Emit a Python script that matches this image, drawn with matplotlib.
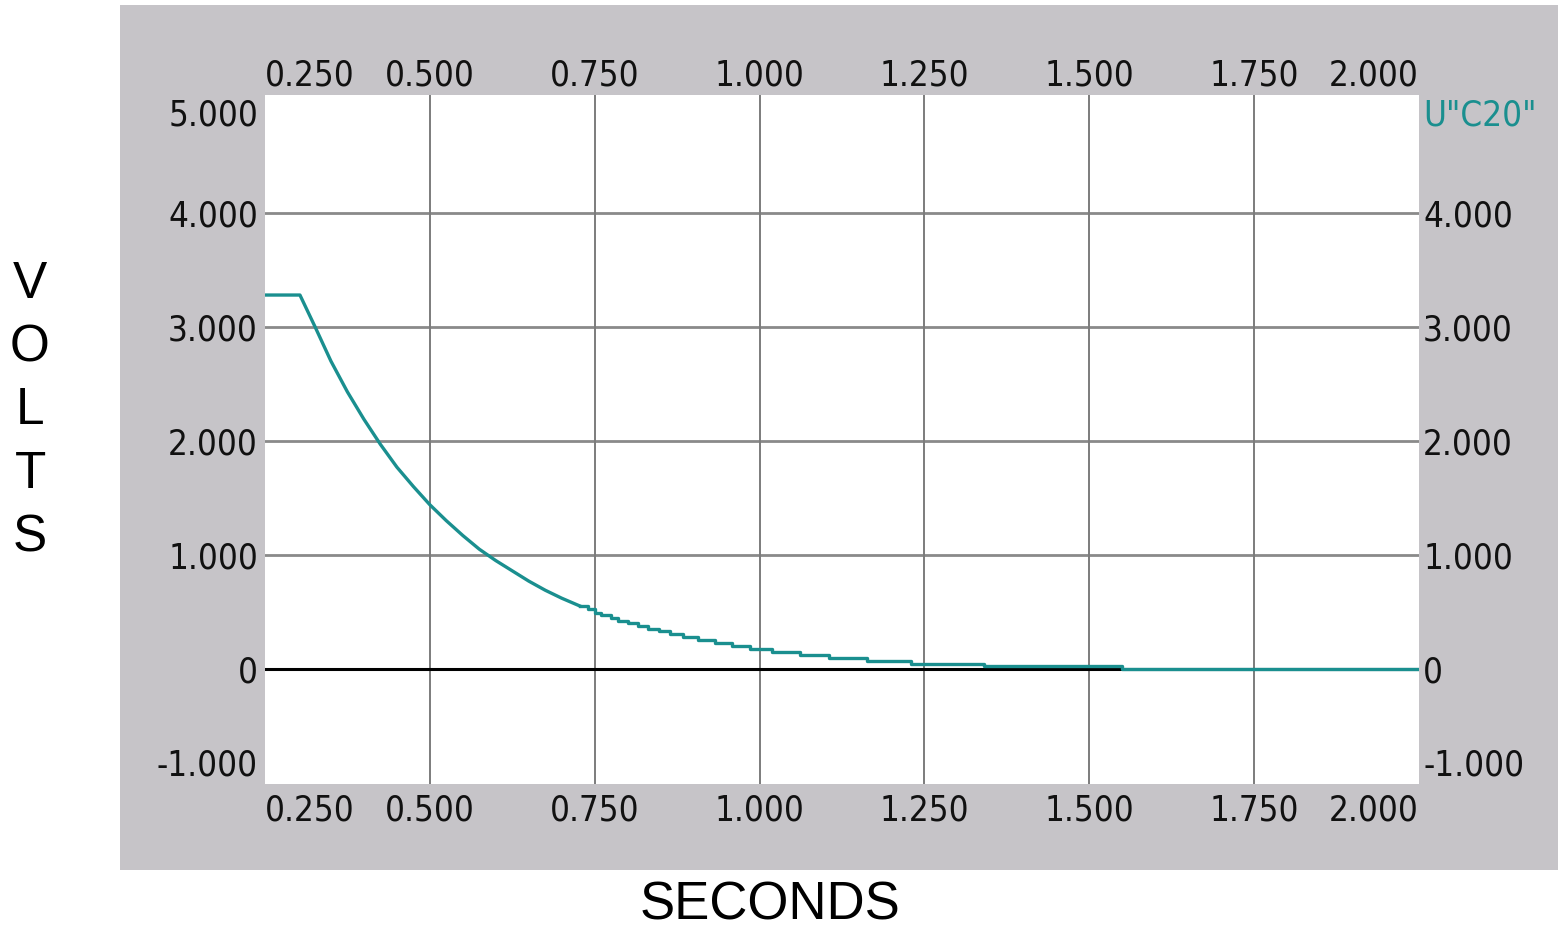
import matplotlib
matplotlib.use("Agg")
import matplotlib.pyplot as plt
from matplotlib.patches import Rectangle
from matplotlib import font_manager

# Capacitor discharge trace U"C20" (volts vs. seconds)
# Smooth part of the decay (linear segments between read samples)
ramp_t = [0.250, 0.303, 0.326, 0.350, 0.375, 0.400, 0.425, 0.450, 0.475, 0.500,
          0.525, 0.550, 0.575, 0.600, 0.625, 0.650, 0.675, 0.700, 0.727]
ramp_v = [3.28, 3.28, 3.00, 2.70, 2.43, 2.19, 1.97, 1.77, 1.60, 1.44,
          1.30, 1.17, 1.05, 0.95, 0.86, 0.77, 0.69, 0.62, 0.553]

# Quantised tail of the decay (held levels, step after each time)
step_t = [0.727, 0.740, 0.750, 0.760, 0.775, 0.785, 0.800, 0.816, 0.831, 0.848,
          0.864, 0.884, 0.906, 0.932, 0.958, 0.986, 1.019, 1.061, 1.105, 1.163,
          1.230, 1.340, 1.550, 2.000]
step_v = [0.553, 0.523, 0.494, 0.474, 0.450, 0.424, 0.401, 0.377, 0.354, 0.330,
          0.304, 0.278, 0.251, 0.225, 0.199, 0.172, 0.147, 0.121, 0.097, 0.071,
          0.047, 0.023, 0.000, 0.000]

x_ticks = [0.25, 0.50, 0.75, 1.00, 1.25, 1.50, 1.75, 2.00]
x_labels = ["0.250", "0.500", "0.750", "1.000", "1.250", "1.500", "1.750", "2.000"]
y_ticks = [-1, 0, 1, 2, 3, 4, 5]
y_labels = ["-1.000", "0", "1.000", "2.000", "3.000", "4.000", "5.000"]
y_labels_right = ["-1.000", "0", "1.000", "2.000", "3.000", "4.000", 'U"C20"']

TEAL = "#1a8f8f"
PANEL = "#c6c4c8"
GRID = "#8a8a8a"

# Prefer a narrow face for the scale numbers
_names = {f.name for f in font_manager.fontManager.ttflist}
_condensed = [f for f in font_manager.fontManager.ttflist
              if f.name == "DejaVu Sans" and f.stretch == "condensed"]
if "Liberation Sans Narrow" in _names:
    TICK_FONT, TICK_STRETCH, TICK_SIZE = "Liberation Sans Narrow", "normal", 26
elif _condensed:
    TICK_FONT, TICK_STRETCH, TICK_SIZE = "DejaVu Sans", "condensed", 25
else:
    TICK_FONT, TICK_STRETCH, TICK_SIZE = "Roboto", "normal", 24

W, H = 1558, 931
fig = plt.figure(figsize=(W / 100, H / 100), dpi=100, facecolor="white")

# Grey instrument panel behind the plot
fig.patches.append(Rectangle((120 / W, 1 - 870 / H), (W - 120) / W, 865 / H,
                             transform=fig.transFigure, facecolor=PANEL,
                             edgecolor="none", zorder=-10))

ax = fig.add_axes([265 / W, 1 - 784 / H, 1154 / W, 689 / H])
ax.set_zorder(2)
ax.set_facecolor("white")
ax.set_xlim(0.25, 2.0)
ax.set_ylim(-1.01, 5.035)
for s in ax.spines.values():
    s.set_visible(False)

# Grid lines
for yv in [1, 2, 3, 4]:
    ax.axhline(yv, color=GRID, lw=2.0, zorder=1)
for xv in [0.5, 0.75, 1.0, 1.25, 1.5, 1.75]:
    ax.axvline(xv, color="#7c7c7c", lw=1.4, zorder=1)

# Zero reference line
ax.axhline(0, color="black", lw=2.2, zorder=2)

# Trace
ax.plot(ramp_t, ramp_v, color=TEAL, lw=2.4, zorder=3)
ax.plot(step_t, step_v, color=TEAL, lw=2.4, zorder=3, drawstyle="steps-post")


def style(lab):
    lab.set_fontfamily(TICK_FONT)
    lab.set_fontstretch(TICK_STRETCH)
    lab.set_fontsize(TICK_SIZE)
    lab.set_color("#111111")


# X tick labels on top and bottom
ax.set_xticks(x_ticks, x_labels)
ax.tick_params(axis="x", length=0, top=False, labeltop=True, pad=7)
ax.set_yticks(y_ticks, y_labels)
ax.tick_params(axis="y", length=0, pad=5)
xt = ax.xaxis.get_major_ticks()
for t in xt:
    style(t.label1)
    style(t.label2)
    t.label2.set_verticalalignment("baseline")
for t in (xt[0].label1, xt[0].label2):
    t.set_horizontalalignment("left")
for t in (xt[-1].label1, xt[-1].label2):
    t.set_horizontalalignment("right")

yt = ax.yaxis.get_major_ticks()
for t in yt:
    style(t.label1)
yt[-1].label1.set_verticalalignment("top")
yt[0].label1.set_verticalalignment("bottom")

# Right-hand scale with the series name at the top
ax2 = ax.twinx()
ax2.set_zorder(3)
ax2.set_ylim(ax.get_ylim())
for s in ax2.spines.values():
    s.set_visible(False)
ax2.set_yticks(y_ticks, y_labels_right)
ax2.tick_params(axis="y", length=0, pad=3)
yt2 = ax2.yaxis.get_major_ticks()
for t in yt2:
    style(t.label2)
yt2[-1].label2.set_verticalalignment("top")
yt2[-1].label2.set_color(TEAL)
yt2[0].label2.set_verticalalignment("bottom")

# Axis titles
fig.text(30 / W, 1 - 411 / H, "V\nO\nL\nT\nS", ha="center", va="center",
         fontsize=37, fontfamily=["Liberation Sans", "DejaVu Sans"],
         linespacing=1.38)
fig.text(770 / W, 1 - 905 / H, "SECONDS", ha="center", va="center",
         fontsize=38, fontfamily=["Liberation Sans", "DejaVu Sans"])

fig.savefig("out.png", dpi=100, facecolor="white")
